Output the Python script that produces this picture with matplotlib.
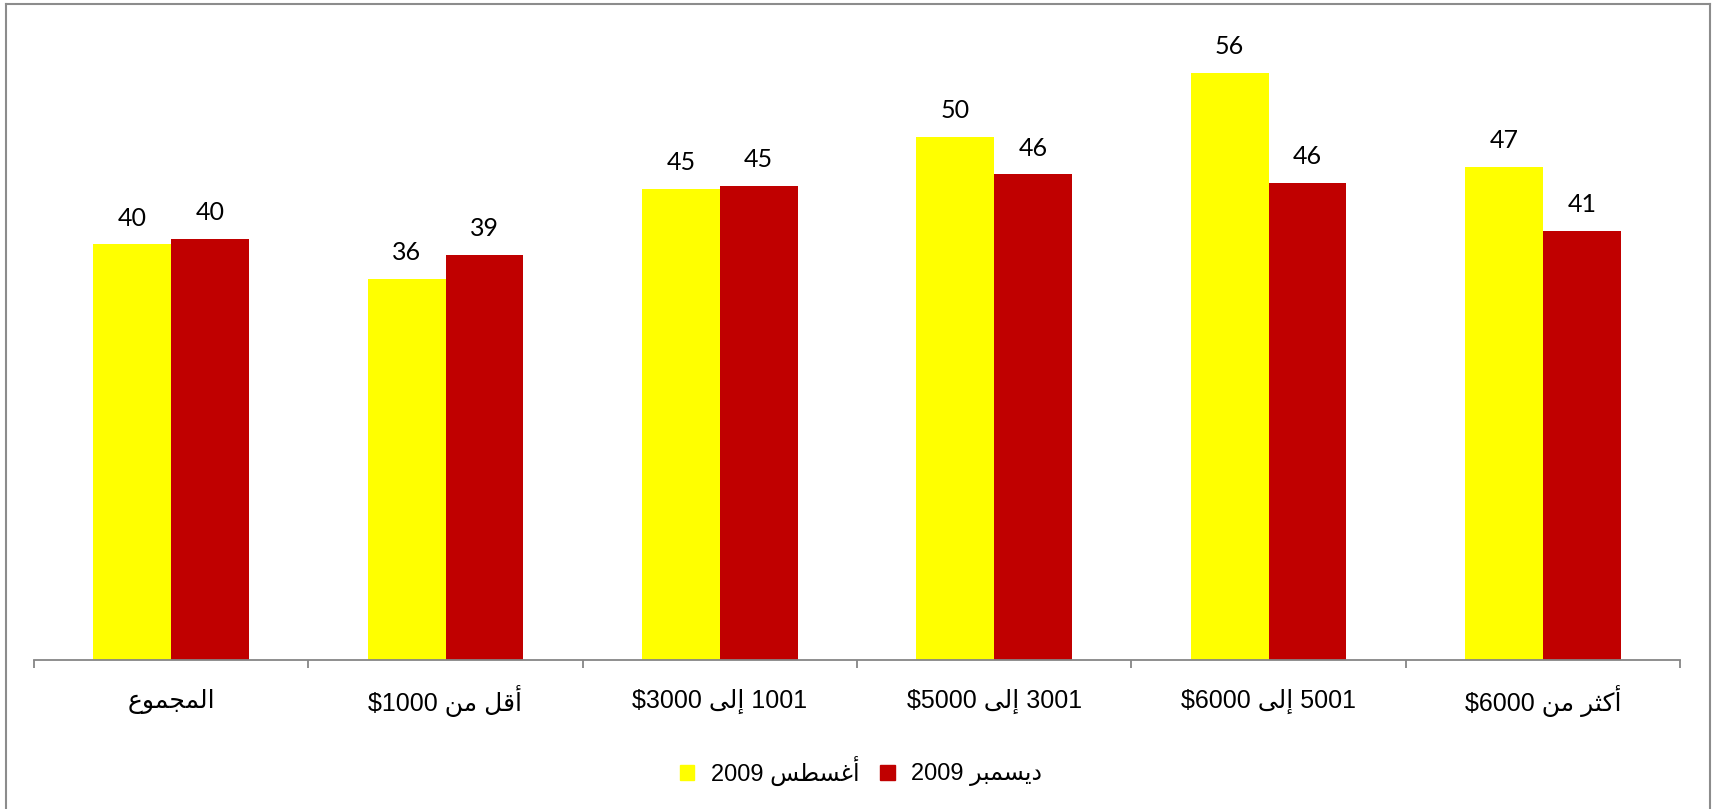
import matplotlib
matplotlib.use("Agg")
import matplotlib.pyplot as plt
from matplotlib.lines import Line2D
from matplotlib.patches import Patch
import numpy as np

# data (bar heights, labels are rounded)
categories = ["المجموع", "أقل من $1000", "1001 إلى $3000",
              "3001 إلى $5000", "5001 إلى $6000", "أكثر من $6000"]
aug_2009 = [39.7, 36.4, 45.0, 50.0, 56.1, 47.1]
dec_2009 = [40.2, 38.7, 45.3, 46.4, 45.6, 41.0]
series_names = ["أغسطس 2009", "ديسمبر 2009"]
colors = ["#FFFF00", "#C00000"]

# arabic presentation forms: isolated, final, initial, medial
FORMS = {
    'ا': ('\uFE8D', '\uFE8E', None, None),
    'أ': ('\uFE83', '\uFE84', None, None),
    'إ': ('\uFE87', '\uFE88', None, None),
    'ب': ('\uFE8F', '\uFE90', '\uFE91', '\uFE92'),
    'ث': ('\uFE99', '\uFE9A', '\uFE9B', '\uFE9C'),
    'ج': ('\uFE9D', '\uFE9E', '\uFE9F', '\uFEA0'),
    'د': ('\uFEA9', '\uFEAA', None, None),
    'ر': ('\uFEAD', '\uFEAE', None, None),
    'س': ('\uFEB1', '\uFEB2', '\uFEB3', '\uFEB4'),
    'ط': ('\uFEC1', '\uFEC2', '\uFEC3', '\uFEC4'),
    'ع': ('\uFEC9', '\uFECA', '\uFECB', '\uFECC'),
    'غ': ('\uFECD', '\uFECE', '\uFECF', '\uFED0'),
    'ق': ('\uFED5', '\uFED6', '\uFED7', '\uFED8'),
    'ك': ('\uFED9', '\uFEDA', '\uFEDB', '\uFEDC'),
    'ل': ('\uFEDD', '\uFEDE', '\uFEDF', '\uFEE0'),
    'م': ('\uFEE1', '\uFEE2', '\uFEE3', '\uFEE4'),
    'ن': ('\uFEE5', '\uFEE6', '\uFEE7', '\uFEE8'),
    'و': ('\uFEED', '\uFEEE', None, None),
    'ى': ('\uFEEF', '\uFEF0', None, None),
    'ي': ('\uFEF1', '\uFEF2', '\uFEF3', '\uFEF4'),
}


def shape_word(w):
    if not any(ch in FORMS for ch in w):
        return w
    out = []
    for i, ch in enumerate(w):
        f = FORMS.get(ch)
        if f is None:
            out.append(ch)
            continue
        prev = w[i - 1] if i > 0 else None
        nxt = w[i + 1] if i + 1 < len(w) else None
        jp = prev in FORMS and FORMS[prev][2] is not None
        jn = nxt in FORMS and f[2] is not None
        if jp and jn:
            out.append(f[3])
        elif jp:
            out.append(f[1])
        elif jn:
            out.append(f[2])
        else:
            out.append(f[0])
    return ''.join(reversed(out))


def visual(text):
    # right-to-left line: shape words, reverse word order
    return ' '.join(shape_word(t) for t in reversed(text.split(' ')))


W, H = 1715, 809
fig = plt.figure(figsize=(W / 100, H / 100), dpi=100)
ax = fig.add_axes([34 / W, (H - 660) / H, 1646 / W, 628 / H])

x = np.arange(len(categories))
bw = 0.284
for vals, off, c in [(aug_2009, -bw / 2, colors[0]), (dec_2009, bw / 2, colors[1])]:
    bars = ax.bar(x + off, vals, bw, color=c, linewidth=0)
    for b, v in zip(bars, vals):
        ax.annotate(f"{v:.0f}", (b.get_x() + b.get_width() / 2, v),
                    xytext=(0, 13.5), textcoords="offset points",
                    ha="center", va="baseline", fontsize=18, family="Lato")

ax.set_xlim(-0.5, len(categories) - 0.5)
ax.set_ylim(0, 60)
for s in ["top", "right", "left"]:
    ax.spines[s].set_visible(False)
ax.spines["bottom"].set_color("#868686")
ax.spines["bottom"].set_linewidth(1.3)
ax.set_yticks([])
ax.set_xticks(np.arange(len(categories) + 1) - 0.5)
ax.set_xticklabels([])
ax.tick_params(axis="x", length=6, width=1.3, color="#868686")
for xi, cat in zip(x, categories):
    ax.text(xi, 0, visual(cat), transform=ax.get_xaxis_transform(),
            ha="center", va="center", fontsize=18,
            family=["Liberation Sans", "DejaVu Sans"])
# move category labels down to their row
for t in ax.texts[-len(categories):]:
    t.set_y(-41 / 628)

handles = [Patch(color=c) for c in colors]
fig.legend(handles, [visual(n) for n in series_names], loc="center",
           bbox_to_anchor=(861 / W, 1 - 771 / H), ncol=2, frameon=False,
           prop={"family": ["Liberation Sans", "DejaVu Sans"], "size": 17},
           handlelength=0.6, handleheight=0.6, handletextpad=0.7,
           columnspacing=0.9)

# outer chart border (bottom edge is cut off)
bc = "#8C8C8C"
fig.add_artist(Line2D([6.5 / W, 6.5 / W], [0, 1 - 3.5 / H], color=bc, lw=1.5, transform=fig.transFigure))
fig.add_artist(Line2D([6.5 / W, 1710.5 / W], [1 - 3.5 / H, 1 - 3.5 / H], color=bc, lw=1.5, transform=fig.transFigure))
fig.add_artist(Line2D([1710.5 / W, 1710.5 / W], [0, 1 - 3.5 / H], color=bc, lw=1.5, transform=fig.transFigure))

fig.savefig("out.png", dpi=100)
